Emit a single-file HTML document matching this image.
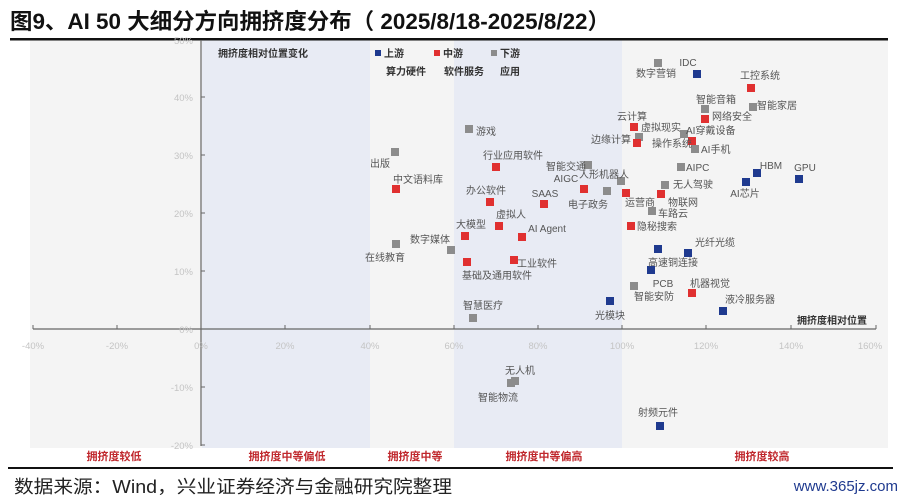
<!DOCTYPE html>
<html><head><meta charset="utf-8"><style>
body{margin:0;background:#fff;width:906px;height:499px;overflow:hidden}
svg{display:block}
text{font-family:"Liberation Sans","Noto Sans CJK SC",sans-serif}
.l{font-size:10px;fill:#555}
.t{font-size:9.5px;fill:#c4c4c4}
.b{font-size:10px;font-weight:bold;fill:#333}
.r{font-size:11px;font-weight:bold;fill:#c0282d}
</style></head><body>
<svg width="906" height="499" viewBox="0 0 906 499">
<text x="10" y="29" font-size="22" font-weight="bold" fill="#111" textLength="600" lengthAdjust="spacingAndGlyphs">图9、AI 50 大细分方向拥挤度分布（ 2025/8/18-2025/8/22）</text>
<rect x="30" y="40" width="858" height="408" fill="#f4f4f4"/>
<rect x="202" y="40" width="168" height="408" fill="#e8ebf4"/>
<rect x="454" y="40" width="168" height="408" fill="#e8ebf4"/>
<rect x="10" y="38" width="878" height="2.5" fill="#111"/>
<line x1="33" y1="329" x2="876" y2="329" stroke="#666" stroke-width="1.2"/>
<line x1="201" y1="40" x2="201" y2="446" stroke="#666" stroke-width="1.2"/>
<g stroke="#666" stroke-width="1">
<line x1="33" y1="325" x2="33" y2="329"/><line x1="117" y1="325" x2="117" y2="329"/><line x1="285" y1="325" x2="285" y2="329"/><line x1="370" y1="325" x2="370" y2="329"/><line x1="454" y1="325" x2="454" y2="329"/><line x1="538" y1="325" x2="538" y2="329"/><line x1="622" y1="325" x2="622" y2="329"/><line x1="706" y1="325" x2="706" y2="329"/><line x1="791" y1="325" x2="791" y2="329"/><line x1="876" y1="325" x2="876" y2="329"/>
<line x1="201" y1="97" x2="205" y2="97"/><line x1="201" y1="155" x2="205" y2="155"/><line x1="201" y1="213" x2="205" y2="213"/><line x1="201" y1="271" x2="205" y2="271"/><line x1="201" y1="387" x2="205" y2="387"/><line x1="201" y1="445" x2="205" y2="445"/>
</g>
<g class="t" text-anchor="middle">
<text x="33" y="349">-40%</text><text x="117" y="349">-20%</text><text x="201" y="349">0%</text><text x="285" y="349">20%</text><text x="370" y="349">40%</text><text x="454" y="349">60%</text><text x="538" y="349">80%</text><text x="622" y="349">100%</text><text x="706" y="349">120%</text><text x="791" y="349">140%</text><text x="870" y="349">160%</text>
</g>
<g class="t" text-anchor="end">
<text x="193" y="44">50%</text><text x="193" y="101">40%</text><text x="193" y="159">30%</text><text x="193" y="217">20%</text><text x="193" y="275">10%</text><text x="193" y="333">0%</text><text x="193" y="391">-10%</text><text x="193" y="449">-20%</text>
</g>
<text class="b" x="218" y="57">拥挤度相对位置变化</text>
<text class="b" x="797" y="324">拥挤度相对位置</text>
<rect x="375" y="50" width="6" height="6" fill="#1f3a8f"/><text class="b" x="384" y="57">上游</text>
<rect x="434" y="50" width="6" height="6" fill="#e03030"/><text class="b" x="443" y="57">中游</text>
<rect x="491" y="50" width="6" height="6" fill="#8c8c8c"/><text class="b" x="500" y="57">下游</text>
<text class="b" x="386" y="75">算力硬件</text><text class="b" x="444" y="75">软件服务</text><text class="b" x="500" y="75">应用</text>
<g fill="#8c8c8c">
<rect x="654" y="59" width="8" height="8"/><rect x="701" y="105" width="8" height="8"/><rect x="749" y="103" width="8" height="8"/><rect x="680" y="130" width="8" height="8"/><rect x="635" y="133" width="8" height="8"/><rect x="691" y="145" width="8" height="8"/><rect x="465" y="125" width="8" height="8"/><rect x="391" y="148" width="8" height="8"/><rect x="584" y="161" width="8" height="8"/><rect x="677" y="163" width="8" height="8"/><rect x="617" y="177" width="8" height="8"/><rect x="661" y="181" width="8" height="8"/><rect x="603" y="187" width="8" height="8"/><rect x="648" y="207" width="8" height="8"/><rect x="392" y="240" width="8" height="8"/><rect x="447" y="246" width="8" height="8"/><rect x="630" y="282" width="8" height="8"/><rect x="469" y="314" width="8" height="8"/><rect x="511" y="377" width="8" height="8"/><rect x="507" y="379" width="8" height="8"/>
</g>
<g fill="#e03030">
<rect x="747" y="84" width="8" height="8"/><rect x="701" y="115" width="8" height="8"/><rect x="630" y="123" width="8" height="8"/><rect x="633" y="139" width="8" height="8"/><rect x="688" y="137" width="8" height="8"/><rect x="492" y="163" width="8" height="8"/><rect x="580" y="185" width="8" height="8"/><rect x="622" y="189" width="8" height="8"/><rect x="657" y="190" width="8" height="8"/><rect x="392" y="185" width="8" height="8"/><rect x="486" y="198" width="8" height="8"/><rect x="540" y="200" width="8" height="8"/><rect x="495" y="222" width="8" height="8"/><rect x="627" y="222" width="8" height="8"/><rect x="461" y="232" width="8" height="8"/><rect x="518" y="233" width="8" height="8"/><rect x="463" y="258" width="8" height="8"/><rect x="510" y="256" width="8" height="8"/><rect x="688" y="289" width="8" height="8"/>
</g>
<g fill="#1f3a8f">
<rect x="693" y="70" width="8" height="8"/><rect x="753" y="169" width="8" height="8"/><rect x="795" y="175" width="8" height="8"/><rect x="742" y="178" width="8" height="8"/><rect x="684" y="249" width="8" height="8"/><rect x="654" y="245" width="8" height="8"/><rect x="647" y="266" width="8" height="8"/><rect x="719" y="307" width="8" height="8"/><rect x="606" y="297" width="8" height="8"/><rect x="656" y="422" width="8" height="8"/>
</g>
<g class="l" text-anchor="middle">
<text x="656" y="77">数字营销</text><text x="688" y="66">IDC</text><text x="760" y="79">工控系统</text><text x="716" y="103">智能音箱</text><text x="632" y="120">云计算</text><text x="672" y="147">操作系统</text><text x="380" y="167">出版</text><text x="513" y="159">行业应用软件</text><text x="566" y="170">智能交通</text><text x="771" y="169">HBM</text><text x="805" y="171">GPU</text><text x="604" y="178">人形机器人</text><text x="566" y="182">AIGC</text><text x="745" y="197">AI芯片</text><text x="588" y="208">电子政务</text><text x="640" y="206">运营商</text><text x="418" y="183">中文语料库</text><text x="486" y="194">办公软件</text><text x="545" y="197">SAAS</text><text x="511" y="218">虚拟人</text><text x="471" y="228">大模型</text><text x="547" y="232">AI Agent</text><text x="430" y="243">数字媒体</text><text x="385" y="261">在线教育</text><text x="715" y="246">光纤光缆</text><text x="673" y="266">高速铜连接</text><text x="497" y="279">基础及通用软件</text><text x="663" y="287">PCB</text><text x="654" y="300">智能安防</text><text x="710" y="287">机器视觉</text><text x="750" y="303">液冷服务器</text><text x="610" y="319">光模块</text><text x="483" y="309">智慧医疗</text><text x="520" y="374">无人机</text><text x="498" y="401">智能物流</text><text x="658" y="416">射频元件</text>
</g>
<g class="l">
<text x="757" y="109">智能家居</text><text x="712" y="120">网络安全</text><text x="641" y="131">虚拟现实</text><text x="686" y="134">AI穿戴设备</text><text x="701" y="153">AI手机</text><text x="476" y="135">游戏</text><text x="686" y="171">AIPC</text><text x="673" y="188">无人驾驶</text><text x="668" y="206">物联网</text><text x="658" y="217">车路云</text><text x="637" y="230">隐秘搜索</text><text x="517" y="267">工业软件</text>
</g>
<text class="l" x="631" y="143" text-anchor="end">边缘计算</text>
<g class="r" text-anchor="middle">
<text x="114" y="460">拥挤度较低</text><text x="287" y="460">拥挤度中等偏低</text><text x="415" y="460">拥挤度中等</text><text x="544" y="460">拥挤度中等偏高</text><text x="762" y="460">拥挤度较高</text>
</g>
<rect x="8" y="467" width="885" height="2" fill="#111"/>
<text x="14" y="493" font-size="18" fill="#222" textLength="438" lengthAdjust="spacingAndGlyphs">数据来源：Wind，兴业证券经济与金融研究院整理</text>
<text x="898" y="491" font-size="15" fill="#1f3a8f" text-anchor="end" font-family="Liberation Serif,serif">www.365jz.com</text>
</svg>
</body></html>
